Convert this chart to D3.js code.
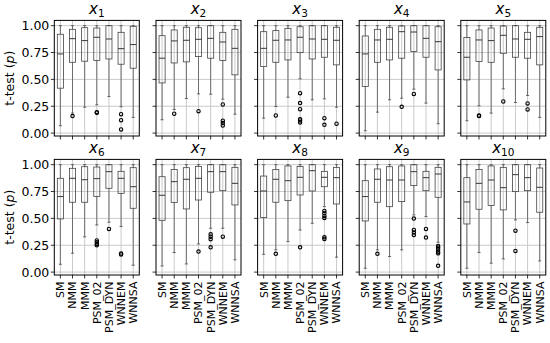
<!DOCTYPE html>
<html><head><meta charset="utf-8">
<script src="https://cdn.jsdelivr.net/npm/d3@7"></script>
<style>body{margin:0;background:#fff}svg{display:block}text{font-family:"DejaVu Sans",sans-serif}</style>
</head><body><svg id="c" width="550" height="343"></svg>
<script>
const categories = ["SM","NMM","MMM","PSM_02","PSM_DYN","WNNEM","WNNSA"];
const yTicks = [0, 0.25, 0.5, 0.75, 1.0];
const yTickLabels = ["0.00","0.25","0.50","0.75","1.00"];
const titles = ["1","2","3","4","5","6","7","8","9","10"];
// each box: [whiskerLow, q1, median, q3, whiskerHigh]
const x1 = [[0.068,0.418,0.737,0.92,1],[0.186,0.659,0.879,0.966,1],[0.241,0.669,0.861,0.981,1],[0.263,0.675,0.892,0.978,1],[0.34,0.69,0.876,1,1],[0.245,0.641,0.786,0.938,1],[0.146,0.604,0.824,0.994,1]];
const x2 = [[0.124,0.467,0.697,0.907,1],[0.22,0.653,0.858,0.96,1],[0.322,0.663,0.864,0.985,1],[0.365,0.712,0.873,0.981,1],[0.362,0.697,0.882,1,1],[0.316,0.675,0.848,0.938,1],[0.176,0.542,0.789,0.966,1]];
const x3 = [[0.139,0.619,0.789,0.944,1],[0.248,0.659,0.864,0.954,1],[0.334,0.681,0.867,0.975,1],[0.505,0.749,0.892,0.99,1],[0.31,0.69,0.876,1,1],[0.319,0.706,0.873,1,1],[0.241,0.635,0.864,0.985,1]];
const x4 = [[0.022,0.433,0.737,0.904,1],[0.195,0.659,0.867,0.966,1],[0.31,0.681,0.873,0.985,1],[0.325,0.697,0.944,0.997,1],[0.409,0.759,0.941,1,1],[0.279,0.706,0.882,1,1],[0.087,0.588,0.851,0.99,1]];
const x5 = [[0.115,0.495,0.706,0.889,1],[0.254,0.666,0.867,0.96,1],[0.186,0.659,0.861,0.978,1],[0.412,0.743,0.91,0.997,1],[0.285,0.706,0.876,1,1],[0.35,0.697,0.873,0.938,1],[0.146,0.635,0.898,0.985,1]];
const x6 = [[0.073,0.495,0.703,0.873,1],[0.176,0.65,0.873,0.966,1],[0.328,0.65,0.86,0.981,1],[0.439,0.703,0.87,0.978,1],[0.464,0.78,0.935,1,1],[0.424,0.733,0.873,0.938,1],[0.064,0.594,0.795,0.972,1]];
const x7 = [[0.057,0.482,0.715,0.888,1],[0.182,0.647,0.842,0.956,1],[0.076,0.588,0.864,0.972,1],[0.262,0.671,0.873,0.984,1],[0.408,0.743,0.935,1,1],[0.408,0.758,0.935,1,1],[0.114,0.625,0.826,0.975,1]];
const x8 = [[0.166,0.507,0.755,0.894,1],[0.207,0.65,0.864,0.956,1],[0.284,0.665,0.851,0.988,1],[0.392,0.718,0.882,0.984,1],[0.454,0.755,0.944,1,1],[0.609,0.795,0.882,0.938,1],[0.139,0.634,0.879,0.975,1]];
const x9 = [[0.036,0.476,0.703,0.851,1],[0.207,0.65,0.864,0.96,1],[0.145,0.609,0.857,0.981,1],[0.207,0.656,0.857,0.988,1],[0.532,0.805,0.935,1,1],[0.517,0.758,0.879,0.938,1],[0.278,0.696,0.913,0.975,1]];
const x10 = [[0.036,0.448,0.653,0.879,1],[0.182,0.585,0.826,0.956,1],[0.083,0.619,0.857,0.988,1],[0.123,0.579,0.786,0.975,1],[0.486,0.749,0.907,1,1],[0.461,0.758,0.879,1,1],[0.104,0.557,0.789,0.969,1]];
// outliers: [categoryIndex, value]
const out1 = [[1,0.158],[3,0.195],[3,0.19],[5,0.176],[5,0.12],[5,0.034]];
const out2 = [[1,0.18],[3,0.204],[5,0.266],[5,0.115],[5,0.093],[5,0.07]];
const out3 = [[1,0.164],[3,0.372],[3,0.279],[3,0.223],[3,0.13],[3,0.118],[3,0.099],[5,0.139],[5,0.077],[6,0.087]];
const out4 = [[3,0.245],[4,0.365]];
const out5 = [[1,0.164],[1,0.158],[3,0.294],[5,0.276],[5,0.22]];
const out6 = [[3,0.295],[3,0.278],[3,0.262],[3,0.25],[4,0.402],[5,0.172],[5,0.164]];
const out7 = [[3,0.191],[4,0.352],[4,0.33],[4,0.306],[4,0.231],[5,0.33]];
const out8 = [[1,0.17],[3,0.231],[5,0.569],[5,0.548],[5,0.523],[5,0.504],[5,0.324],[5,0.309]];
const out9 = [[1,0.17],[4,0.498],[4,0.393],[4,0.368],[4,0.346],[5,0.402],[5,0.321],[6,0.244],[6,0.228],[6,0.212],[6,0.19],[6,0.175],[6,0.058]];
const out10 = [[4,0.386],[4,0.197]];

const boxes = [x1,x2,x3,x4,x5,x6,x7,x8,x9,x10];
const outs = [out1,out2,out3,out4,out5,out6,out7,out8,out9,out10];

const svg = d3.select("#c");
const panelW = 85, panelH = 115.6;
const lefts = [54.3, 156, 257.6, 359.2, 460.8];
const tops = [20.4, 159.4];

for (let p = 0; p < 10; p++) {
  const col = p % 5, row = Math.floor(p / 5);
  const L = lefts[col], T = tops[row];
  const x = d3.scaleLinear().domain([0.5, 7.5]).range([L, L + panelW]);
  const y = d3.scaleLinear().domain([-0.027, 1.049]).range([T + panelH, T]);
  const g = svg.append("g");
  // grid
  g.selectAll(".hg").data(yTicks).enter().append("line")
    .attr("x1", L).attr("x2", L + panelW).attr("y1", d => y(d)).attr("y2", d => y(d))
    .attr("stroke", "#c4c4c4").attr("stroke-width", 0.9);
  g.selectAll(".vg").data(categories).enter().append("line")
    .attr("x1", (d,i) => x(i+1)).attr("x2", (d,i) => x(i+1)).attr("y1", T).attr("y2", T + panelH)
    .attr("stroke", "#c4c4c4").attr("stroke-width", 0.9);
  const bw = x(1.25) - x(1), cw = x(1.125) - x(1);
  const b = g.selectAll(".box").data(boxes[p]).enter().append("g");
  b.append("line").attr("x1",(d,i)=>x(i+1)).attr("x2",(d,i)=>x(i+1)).attr("y1",d=>y(d[0])).attr("y2",d=>y(d[1])).attr("stroke","#555").attr("stroke-width",0.8);
  b.append("line").attr("x1",(d,i)=>x(i+1)).attr("x2",(d,i)=>x(i+1)).attr("y1",d=>y(d[3])).attr("y2",d=>y(d[4])).attr("stroke","#555").attr("stroke-width",0.8);
  b.append("line").attr("x1",(d,i)=>x(i+1)-cw).attr("x2",(d,i)=>x(i+1)+cw).attr("y1",d=>y(d[0])).attr("y2",d=>y(d[0])).attr("stroke","#444").attr("stroke-width",0.8);
  b.append("line").attr("x1",(d,i)=>x(i+1)-cw).attr("x2",(d,i)=>x(i+1)+cw).attr("y1",d=>y(d[4])).attr("y2",d=>y(d[4])).attr("stroke","#444").attr("stroke-width",0.8);
  b.append("rect").attr("x",(d,i)=>x(i+1)-bw).attr("width",2*bw).attr("y",d=>y(d[3])).attr("height",d=>y(d[1])-y(d[3]))
    .attr("fill","none").attr("stroke","#444").attr("stroke-width",0.8);
  b.append("line").attr("x1",(d,i)=>x(i+1)-bw).attr("x2",(d,i)=>x(i+1)+bw).attr("y1",d=>y(d[2])).attr("y2",d=>y(d[2])).attr("stroke","#222").attr("stroke-width",0.9);
  g.selectAll(".out").data(outs[p]).enter().append("circle")
    .attr("cx", d => x(d[0]+1)).attr("cy", d => y(d[1])).attr("r", 1.7)
    .attr("fill", "none").attr("stroke", "#000").attr("stroke-width", 1.1);
  // frame
  g.append("rect").attr("x", L).attr("y", T).attr("width", panelW).attr("height", panelH)
    .attr("fill", "none").attr("stroke", "#000").attr("stroke-width", 1);
  // x ticks
  g.selectAll(".xt").data(categories).enter().append("line")
    .attr("x1",(d,i)=>x(i+1)).attr("x2",(d,i)=>x(i+1)).attr("y1",T+panelH).attr("y2",T+panelH+3.5)
    .attr("stroke","#000").attr("stroke-width",0.8);
  // y ticks
  g.selectAll(".yt").data(yTicks).enter().append("line")
    .attr("x1",L-3.5).attr("x2",L).attr("y1",d=>y(d)).attr("y2",d=>y(d))
    .attr("stroke","#000").attr("stroke-width",0.8);
  if (col === 0) {
    g.selectAll(".ytl").data(yTicks).enter().append("text")
      .attr("x", L - 5).attr("y", d => y(d)).attr("dy", "0.36em").attr("text-anchor","end")
      .attr("font-size", 12.5).text((d,i) => yTickLabels[i]);
    const yl = g.append("text").attr("transform", `translate(14,${T + panelH/2}) rotate(-90)`)
      .attr("text-anchor","middle").attr("font-size", 12.5);
    yl.append("tspan").text("t-test (");
    yl.append("tspan").attr("font-style","italic").text("p");
    yl.append("tspan").text(")");
  }
  if (row === 1) {
    g.selectAll(".xtl").data(categories).enter().append("text")
      .attr("transform", (d,i) => `translate(${x(i+1)},${T+panelH+6.5}) rotate(-90)`)
      .attr("dy","0.35em").attr("text-anchor","end").attr("font-size", 11).text(d => d);
  }
  // title
  const t = g.append("text").attr("x", L + panelW/2).attr("y", T - 6).attr("text-anchor","middle").attr("font-size", 15);
  t.append("tspan").attr("font-style","italic").text("x");
  t.append("tspan").attr("font-size", 10.5).attr("dy", 3).text(titles[p]);
}
</script></body></html>
